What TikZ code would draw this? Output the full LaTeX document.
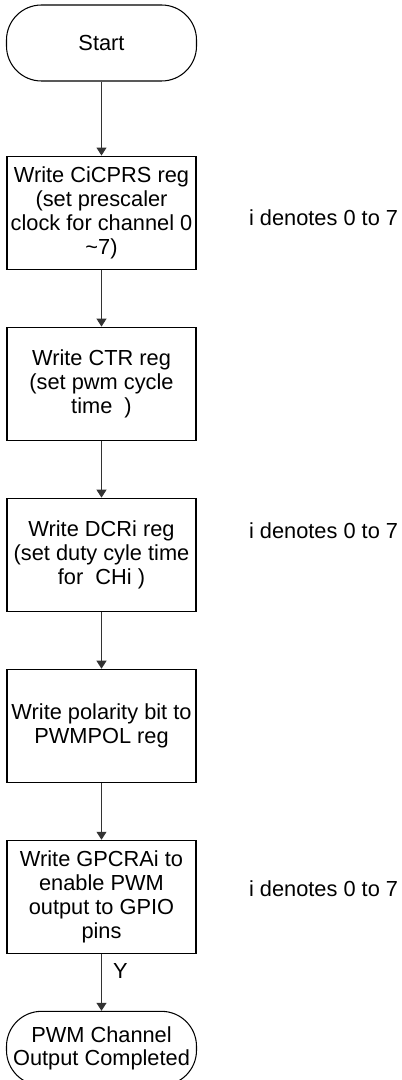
\documentclass[tikz,border=0pt]{standalone}
\usepackage{fontspec}
\setmainfont{Liberation Sans}
\usetikzlibrary{positioning,arrows.meta}
\tikzset{
  stepbox/.style={draw, minimum width=3.78cm, minimum height=2.26cm, align=center, inner sep=2pt},
  term/.style={draw, rounded corners=0.7cm, minimum width=3.8cm, align=center, inner sep=2pt},
  flow/.style={-{Triangle[width=0.2cm,length=0.16cm]}, draw=black!80},
  note/.style={inner sep=0pt},
}
\begin{document}
\begin{tikzpicture}[font=\fontsize{12.4pt}{13.6pt}\selectfont, line width=0.6pt]
    \useasboundingbox (0,0) rectangle (8.02,-21.6);
    % Start
    \node[term, minimum height=1.52cm] (S) at (2.03,-0.86) {Start};
    % Register schreiben
    \node[stepbox, below=1.48cm of S] (A) {Write CiCPRS reg\\(set prescaler\\clock for channel 0\\\textasciitilde7)};
    \node[stepbox, below=1.14cm of A] (B) {Write CTR reg\\(set pwm cycle\\time\ \ )};
    \node[stepbox, below=1.14cm of B] (C) {Write DCRi reg\\(set duty cyle time\\for\ \ CHi )};
    \node[stepbox, below=1.14cm of C] (D) {Write polarity bit to\\PWMPOL reg};
    \node[stepbox, below=1.14cm of D] (E) {Write GPCRAi to\\enable PWM\\output to GPIO\\pins};
    % Ende
    \node[term, minimum height=1.48cm, below=1.14cm of E] (Z) {PWM Channel\\Output Completed};
    % Hinweise
    \node[note, right=1.04cm of A, yshift=-0.11cm] (nA) {i denotes 0 to 7};
    \node[note, right=1.04cm of C, yshift=0.47cm] (nC) {i denotes 0 to 7};
    \node[note, right=1.04cm of E, yshift=0.17cm] (nE) {i denotes 0 to 7};
    % Pfeile
    \draw[flow] (S) -- (A);
    \draw[flow] (A) -- (B);
    \draw[flow] (B) -- (C);
    \draw[flow] (C) -- (D);
    \draw[flow] (D) -- (E);
    \draw[flow] (E) -- node[pos=0.3, right=0.22cm, inner sep=0pt] (y) {Y} (Z);
\end{tikzpicture}
\end{document}
